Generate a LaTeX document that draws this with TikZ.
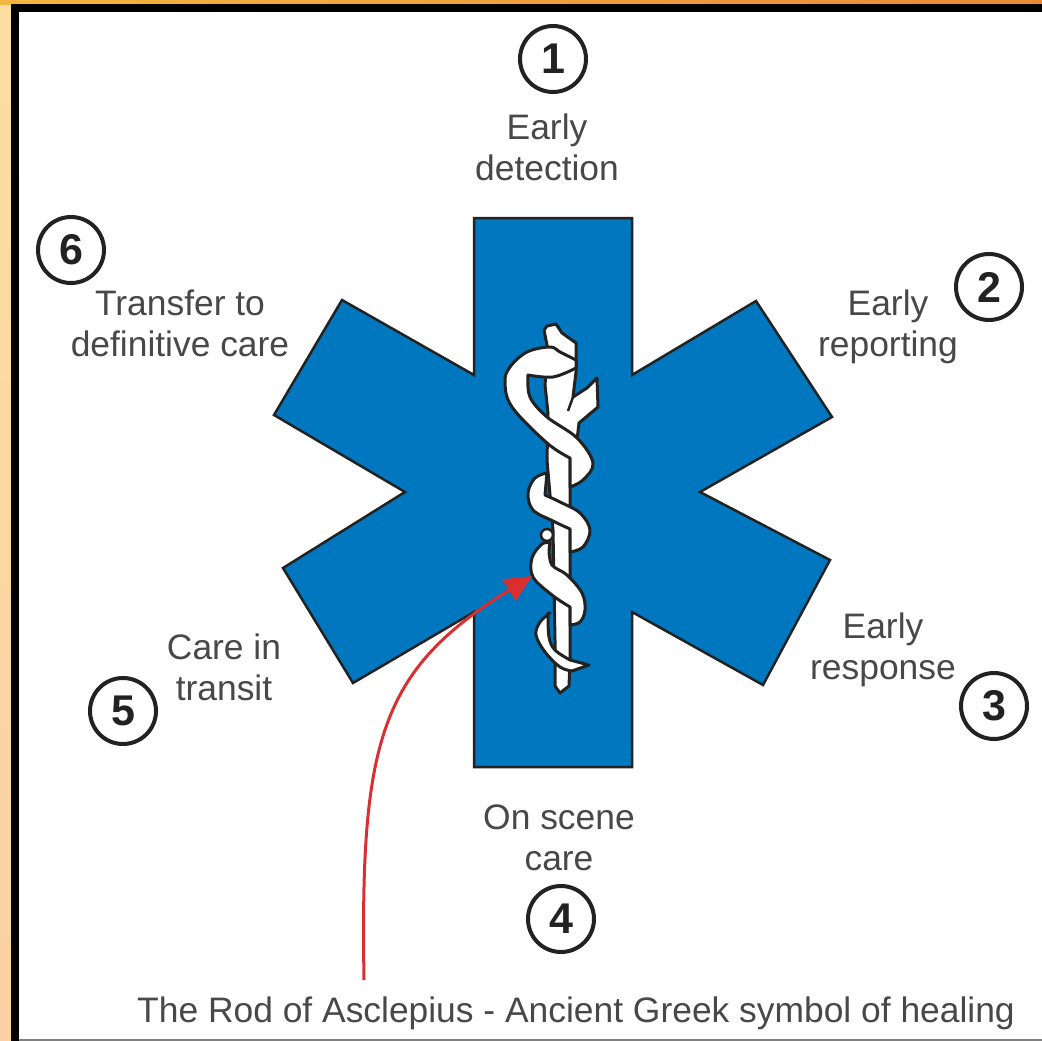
\documentclass[tikz,border=0pt]{standalone}
\usepackage{fontspec}
\setmainfont{Liberation Sans}
\usetikzlibrary{arrows.meta}
\definecolor{starblue}{HTML}{0077BE}
\definecolor{ink}{HTML}{222222}
\definecolor{txt}{HTML}{484848}
\definecolor{redline}{HTML}{D83030}
\definecolor{stripa}{HTML}{FCDFA0}
\definecolor{stripb}{HTML}{FBD0A4}
\definecolor{topa}{HTML}{F4B540}
\definecolor{topb}{HTML}{EA8A35}
\begin{document}
\begin{tikzpicture}[x=1pt,y=-1pt,
  lbl/.style={text=txt,font=\fontsize{35.4}{41}\selectfont,align=center,inner sep=0pt},
  num/.style={circle,draw=ink,line width=4pt,fill=white,minimum size=66pt,inner sep=0pt,text=ink,font=\fontsize{43}{43}\selectfont\bfseries},
  outl/.style={draw=ink,line width=3pt,fill=white,line join=round}]
\useasboundingbox (0,0) rectangle (1042,1041);
% surroundings
\shade[top color=stripa,bottom color=stripb] (0,0) rectangle (12,1041);
\shade[left color=topa,right color=topb] (0,0) rectangle (1042,5);
\fill[black] (11,4) rectangle (1042,13);
\fill[black] (11,4) rectangle (19,1041);
\fill[white] (19,12) rectangle (1042,1039);
\fill[gray] (19,1039) rectangle (1042,1041);
% star
\draw[fill=starblue,draw=ink,line width=2.5pt,line join=miter]
 (474,218)--(632,218)--(632,375)--(756,301)--(832,417)--(700,492)--(830,560)--(763,685)--(632,612)--(632,767)--(474,767)--(474,612)--(353,683)--(283,568)--(405,492)--(274,415)--(342,300)--(474,375)--cycle;
% rod
\draw[outl] (544,330) -- (547,326) -- (556,324) -- (562,333) -- (576,343) -- (576,372) -- (573,397) -- (587,388) -- (597,378) -- (598,407) -- (579,423) -- (577,440) -- (570,450)
 -- (570,660) -- (569,686) -- (560,693) -- (555,686) -- (555,640) -- (553,530) -- (547,460) -- (548,413) -- (545,385) -- (548,350) -- cycle;
\draw[ink,line width=2.5pt] (573,397) -- (568,411);
% snake
\draw[outl] plot[smooth,tension=.6] coordinates {(576,360) (560,352) (550,347) (527,352) (510,367) (505,382) (512,407) (547,443) (570,458)}
 -- plot[smooth,tension=.6] coordinates {(570,487) (583,480) (593,463) (577,438) (547,417) (530,397) (528,375)}
 -- plot[smooth,tension=.6] coordinates {(528,375) (553,377) (576,368)} -- cycle;
\draw[outl] plot[smooth,tension=.6] coordinates {(547,473) (535,478) (528,493) (533,510) (553,521) (570,529)}
 -- plot[smooth,tension=.6] coordinates {(570,552) (583,547) (590,530) (580,513) (560,502) (545,495)} -- cycle;
\fill[white,draw=ink,line width=2.6pt] (547,535) circle (6pt);
\draw[outl] plot[smooth,tension=.6] coordinates {(550,543) (542,544) (532,558) (533,577) (552,595) (570,607)}
 -- plot[smooth,tension=.6] coordinates {(570,625) (580,622) (585,610) (582,593) (567,575) (552,565) (549,550)} -- cycle;
\draw[outl] plot[smooth,tension=.6] coordinates {(550,613) (540,622) (536,635) (545,652) (560,667) (572,671)}
 -- (589,665) -- plot[smooth,tension=.6] coordinates {(570,660) (555,650) (549,637) (548,613)} -- cycle;
% red arrow
\coordinate (arrowfrom) at (364,980);
\coordinate (arrowto) at (532,576);
\draw[redline,line width=3pt,-{Triangle[length=27pt,width=25pt]}] (arrowfrom) .. controls (360,740) and (380,670) .. (arrowto);
% labels
\node[num] (n1) at (553,59) {1};
\node[num] (n2) at (989,287) {2};
\node[num] (n3) at (994,706) {3};
\node[num] (n4) at (561,919) {4};
\node[num] (n5) at (123,711) {5};
\node[num] (n6) at (71,250) {6};
\node[lbl] (t1) at (547,147) {Early\\detection};
\node[lbl] (t2) at (888,327) {Early\\reporting};
\node[lbl] (t3) at (883,650) {Early\\response};
\node[lbl] (t4) at (559,838) {On scene\\care};
\node[lbl] (t5) at (224,667) {Care in\\transit};
\node[lbl] (t6) at (180,323) {Transfer to\\definitive care};
\node[lbl] (cap) at (576,1013) {The Rod of Asclepius - Ancient Greek symbol of healing};
\end{tikzpicture}
\end{document}
